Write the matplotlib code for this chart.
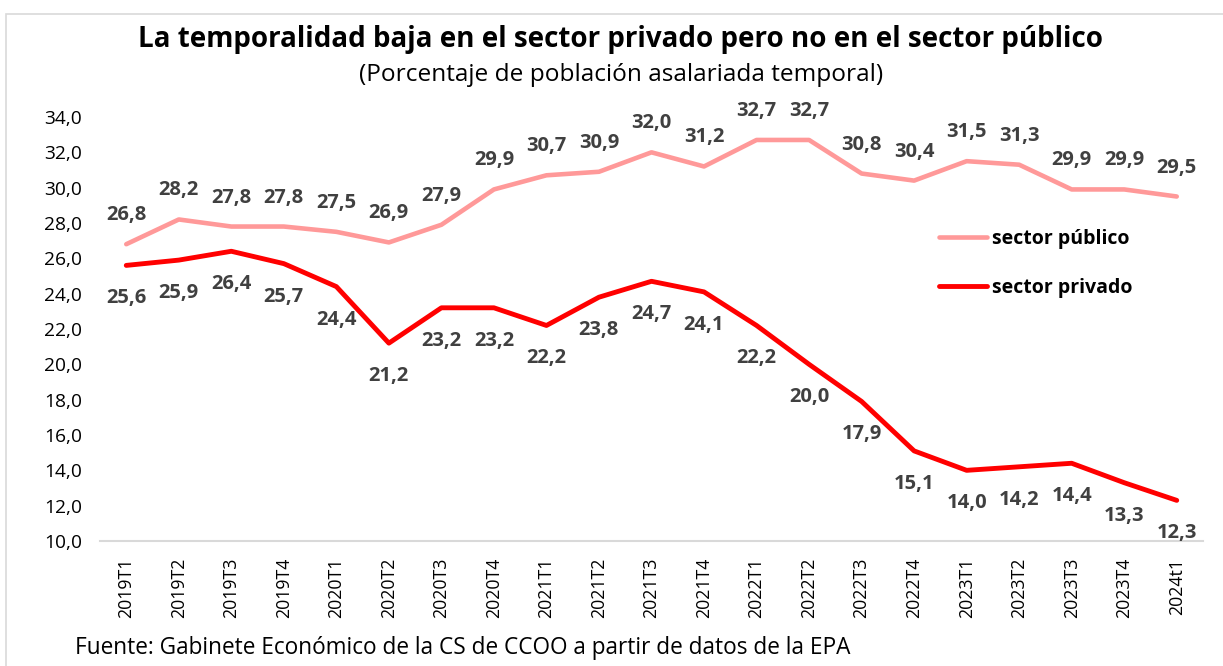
import matplotlib.pyplot as plt
from matplotlib.patches import Rectangle

categories = ["2019T1","2019T2","2019T3","2019T4","2020T1","2020T2","2020T3","2020T4",
              "2021T1","2021T2","2021T3","2021T4","2022T1","2022T2","2022T3","2022T4",
              "2023T1","2023T2","2023T3","2023T4","2024t1"]
publico = [26.8,28.2,27.8,27.8,27.5,26.9,27.9,29.9,30.7,30.9,32.0,31.2,32.7,32.7,30.8,30.4,31.5,31.3,29.9,29.9,29.5]
privado = [25.6,25.9,26.4,25.7,24.4,21.2,23.2,23.2,22.2,23.8,24.7,24.1,22.2,20.0,17.9,15.1,14.0,14.2,14.4,13.3,12.3]
yticks = [10,12,14,16,18,20,22,24,26,28,30,32,34]

plt.rcParams['font.family'] = ['Open Sans', 'DejaVu Sans']

W, H = 1223, 666
fig = plt.figure(figsize=(W/100, H/100), dpi=100)
fig.patches.append(Rectangle((6/W, -0.1), 1.2, 1.1 - 14/H, transform=fig.transFigure,
                             fill=False, edgecolor='#d9d9d9', linewidth=1.2))

ax = fig.add_axes([100/W, 1-541/H, (1203-100)/W, (541-117)/H])
x = list(range(len(categories)))
pub_c = '#FF9999'
pri_c = '#FF0000'
ax.plot(x, publico, color=pub_c, lw=3.3, solid_capstyle='round', solid_joinstyle='round',
        label='sector público')
ax.plot(x, privado, color=pri_c, lw=3.5, solid_capstyle='round', solid_joinstyle='round',
        label='sector privado')

lab_c = '#404040'
for xi, v in zip(x, publico):
    ax.annotate(f"{v:.1f}".replace('.', ','), (xi, v), xytext=(0, 29), textcoords='offset pixels',
                ha='center', va='center', fontsize=14.5, fontweight='bold', color=lab_c)
for xi, v in zip(x, privado):
    ax.annotate(f"{v:.1f}".replace('.', ','), (xi, v), xytext=(0, -33), textcoords='offset pixels',
                ha='center', va='center', fontsize=14.5, fontweight='bold', color=lab_c)

ax.set_xlim(-0.5, len(categories)-0.5)
ax.set_ylim(10, 34)
ax.set_yticks(yticks)
ax.set_yticklabels([f"{t:.1f}".replace('.', ',') for t in yticks], fontsize=13.8)
ax.set_xticks(x)
ax.set_xticklabels(categories, rotation=90, fontsize=12.8)
ax.tick_params(length=0)
ax.tick_params(axis='y', pad=13)
ax.tick_params(axis='x', pad=12)
for s in ['top', 'right', 'left']:
    ax.spines[s].set_visible(False)
ax.spines['bottom'].set_color('#d9d9d9')
ax.spines['bottom'].set_linewidth(1.5)

leg = ax.legend(loc='center left', bbox_to_anchor=(939/W, 1-263.5/H), bbox_transform=fig.transFigure,
                frameon=False, prop={'weight': 'bold', 'size': 14}, handlelength=2.47,
                handletextpad=0.25, labelspacing=1.5, borderpad=0, borderaxespad=0)

fig.text(620/W, 1-40/H, "La temporalidad baja en el sector privado pero no en el sector público",
         ha='center', va='center', fontsize=20, fontweight='bold', color='black')
fig.text(621/W, 1-75/H, "(Porcentaje de población asalariada temporal)",
         ha='center', va='center', fontsize=17.6, color='black')
fig.text(75/W, 1-648/H, "Fuente: Gabinete Económico de la CS de CCOO a partir de datos de la EPA",
         ha='left', va='center', fontsize=16.3, color='black')

fig.savefig('out.png', dpi=100)
